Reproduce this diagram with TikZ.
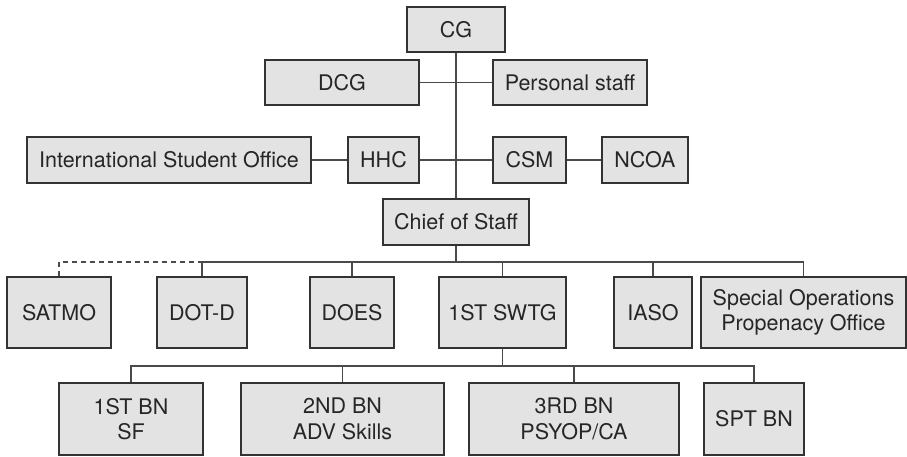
\documentclass[tikz,border=0pt]{standalone}
\usepackage{fontspec}
\setmainfont{TeX Gyre Heros}
\definecolor{boxfill}{HTML}{E3E3E3}
\definecolor{boxline}{HTML}{333333}
\definecolor{wire}{HTML}{4A4A4A}
\begin{document}
\begin{tikzpicture}[x=1pt,y=-1pt,
  unit/.style={draw=boxline,fill=boxfill,line width=1.7pt,rectangle,
    inner sep=0pt,align=center,
    font=\fontsize{21.5}{25.5}\selectfont,text=black!85},
  link/.style={draw=wire,line width=1.7pt},
  dotlink/.style={link,dash pattern=on 5pt off 4pt}]
\useasboundingbox (0,0) rectangle (907,456);

% command group
\node[unit,minimum width=98pt,minimum height=45pt]  (cg)   at (456,29.5)  {CG};
\node[unit,minimum width=154pt,minimum height=45pt] (dcg)  at (342,82.5)  {DCG};
\node[unit,minimum width=154pt,minimum height=45pt] (pers) at (570,82.5)  {Personal staff};
\node[unit,minimum width=284pt,minimum height=46pt] (iso)  at (169,160)   {International Student Office};
\node[unit,minimum width=71pt,minimum height=46pt]  (hhc)  at (383.5,160) {HHC};
\node[unit,minimum width=73pt,minimum height=46pt]  (csm)  at (529.5,160) {CSM};
\node[unit,minimum width=86pt,minimum height=46pt]  (ncoa) at (645,160)   {NCOA};
\node[unit,minimum width=146pt,minimum height=46pt] (cos)  at (456,222)   {Chief of Staff};

% directorates
\node[unit,minimum width=104pt,minimum height=71pt] (satmo) at (59,312.5)    {SATMO};
\node[unit,minimum width=90pt,minimum height=71pt]  (dotd)  at (202,312.5)   {DOT-D};
\node[unit,minimum width=84pt,minimum height=71pt]  (does)  at (352,312.5)   {DOES};
\node[unit,minimum width=127pt,minimum height=71pt] (swtg)  at (502.5,312.5) {1ST SWTG};
\node[unit,minimum width=78pt,minimum height=71pt]  (iaso)  at (653,312.5)   {IASO};
\node[unit,minimum width=205pt,minimum height=71pt] (sopo)  at (803.5,312.5) {Special Operations\\Propenacy Office};

% battalions
\node[unit,minimum width=144pt,minimum height=72pt] (bn1) at (131,419)   {1ST BN\\SF};
\node[unit,minimum width=203pt,minimum height=72pt] (bn2) at (342.5,419) {2ND BN\\ADV Skills};
\node[unit,minimum width=210pt,minimum height=72pt] (bn3) at (574,419)   {3RD BN\\PSYOP/CA};
\node[unit,minimum width=100pt,minimum height=72pt] (bns) at (754,419)   {SPT BN};

% upper connectors
\draw[link] (cg.south) -- (cos.north);
\draw[link] (dcg.east) -- (pers.west);
\draw[link] (iso.east) -- (hhc.west);
\draw[link] (hhc.east) -- (csm.west);
\draw[link] (csm.east) -- (ncoa.west);

% staff bus
\coordinate (busA) at (456,262);
\draw[link] (cos.south) -- (busA);
\draw[link] (dotd.north) -- (dotd.north |- busA) -- (sopo.north |- busA) -- (sopo.north);
\foreach \n in {does,swtg,iaso} \draw[link] (\n.north) -- (\n.north |- busA);
\draw[dotlink] (satmo.north) -- (satmo.north |- busA) -- (dotd.north |- busA);

% battalion bus
\coordinate (busB) at (502.5,366);
\draw[link] (swtg.south) -- (busB);
\draw[link] (bn1.north) -- (bn1.north |- busB) -- (bns.north |- busB) -- (bns.north);
\foreach \n in {bn2,bn3} \draw[link] (\n.north) -- (\n.north |- busB);
\end{tikzpicture}
\end{document}
